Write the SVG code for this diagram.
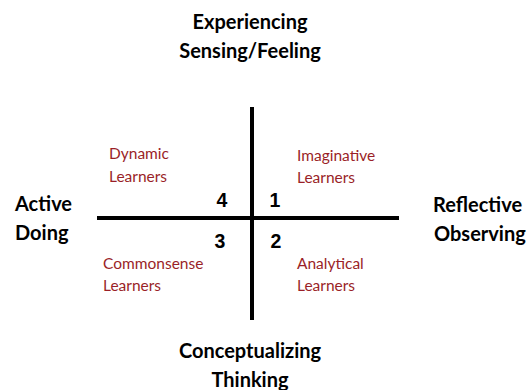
<svg xmlns="http://www.w3.org/2000/svg" width="529" height="390" viewBox="0 0 529 390">
<style>
.axis{font-family:Lato,"Open Sans","Liberation Sans",sans-serif;font-weight:bold;font-size:20px;fill:#000}
.lbl{font-family:Lato,"Open Sans","Liberation Sans",sans-serif;font-size:15.5px;fill:#9a1f28}
.num{font-family:"Liberation Sans",Arial,sans-serif;font-weight:bold;font-size:19.5px;fill:#000;text-anchor:middle}
.ln{stroke:#000;stroke-width:4;fill:none}
</style>
<rect width="529" height="390" fill="#fff"/>
<g id="connectors">
<line class="ln" x1="252" y1="107" x2="252" y2="320"/>
<line class="ln" x1="97" y1="218" x2="399" y2="218"/>
</g>
<g id="top"><text class="axis" x="250" y="29" text-anchor="middle">Experiencing</text><text class="axis" x="250" y="58" text-anchor="middle">Sensing/Feeling</text></g>
<g id="left"><text class="axis" x="15" y="211">Active</text><text class="axis" x="15" y="240">Doing</text></g>
<g id="right"><text class="axis" x="433" y="212">Reflective</text><text class="axis" x="434" y="241">Observing</text></g>
<g id="bottom"><text class="axis" x="250" y="358" text-anchor="middle">Conceptualizing</text><text class="axis" x="250" y="387" text-anchor="middle">Thinking</text></g>
<g id="q4"><text class="lbl" x="109" y="159">Dynamic</text><text class="lbl" x="109" y="182">Learners</text><text class="num" x="222" y="207">4</text></g>
<g id="q1"><text class="lbl" x="297" y="161">Imaginative</text><text class="lbl" x="297" y="183">Learners</text><text class="num" x="275" y="207">1</text></g>
<g id="q3"><text class="lbl" x="103" y="269">Commonsense</text><text class="lbl" x="103" y="291">Learners</text><text class="num" x="220" y="248">3</text></g>
<g id="q2"><text class="lbl" x="297" y="269">Analytical</text><text class="lbl" x="297" y="291">Learners</text><text class="num" x="276" y="248">2</text></g>
</svg>
